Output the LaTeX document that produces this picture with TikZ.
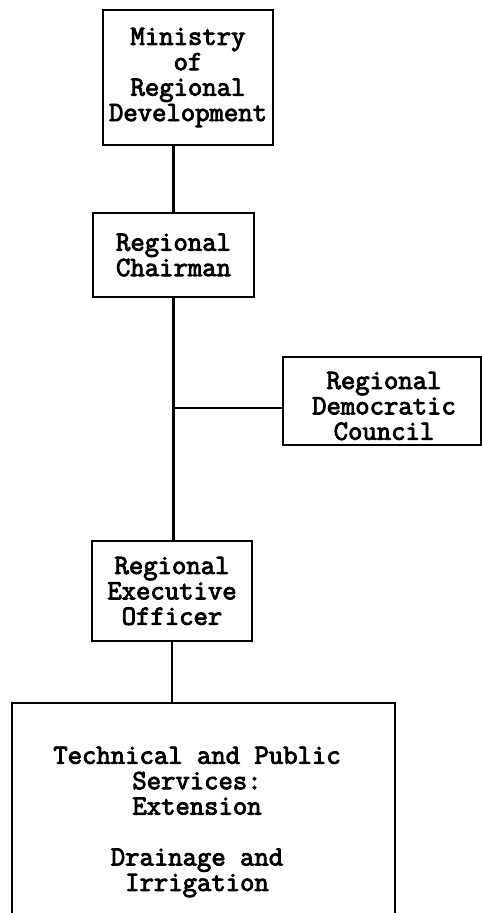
\documentclass[tikz,border=0pt]{standalone}
\usepackage{fontspec}
\newfontfamily\orgfam{Latin Modern Mono}[AutoFakeBold=3.2]
\newcommand\orgfont{\orgfam\bfseries\fontsize{28}{25.5}\selectfont}
\begin{document}
\begin{tikzpicture}[x=1bp,y=-1bp,
  box/.style={draw, line width=2.8bp, rectangle, inner sep=0pt, align=center, font=\orgfont},
  txt/.style={inner sep=0pt, align=center, font=\orgfont},
  link/.style={line width=2.8bp}]
\useasboundingbox (0,0) rectangle (483,913);
\clip (0,0) rectangle (483,913);
\node[box, minimum width=170bp, minimum height=135bp] (min) at (188,77.5) {Ministry\\of\\Regional\\Development};
\node[box, minimum width=161bp, minimum height=84bp] (chair) at (173.5,255) {Regional\\Chairman};
\node[box, minimum width=198bp, minimum height=88bp] (council) at (382,401) {};
\node[txt] (counciltext) at (384,406) {Regional\\Democratic\\Council};
\node[box, minimum width=160bp, minimum height=100bp] (exec) at (172,591) {Regional\\Executive\\Officer};
\node[box, minimum width=383bp, minimum height=260bp] (tech) at (203.5,833) {};
\node[txt] (techtext) at (197,822) {Technical and Public\\Services:\\Extension\\[25.5bp]Drainage and\\Irrigation};
\draw[link] (chair.north) -- (chair.north |- min.south);
\draw[link] (chair.south) -- (chair.south |- exec.north);
\coordinate (j) at (173.5,408);
\draw[link] (j) -- (j -| council.west);
\draw[link] (exec.south) -- (exec.south |- tech.north);
\end{tikzpicture}
\end{document}
